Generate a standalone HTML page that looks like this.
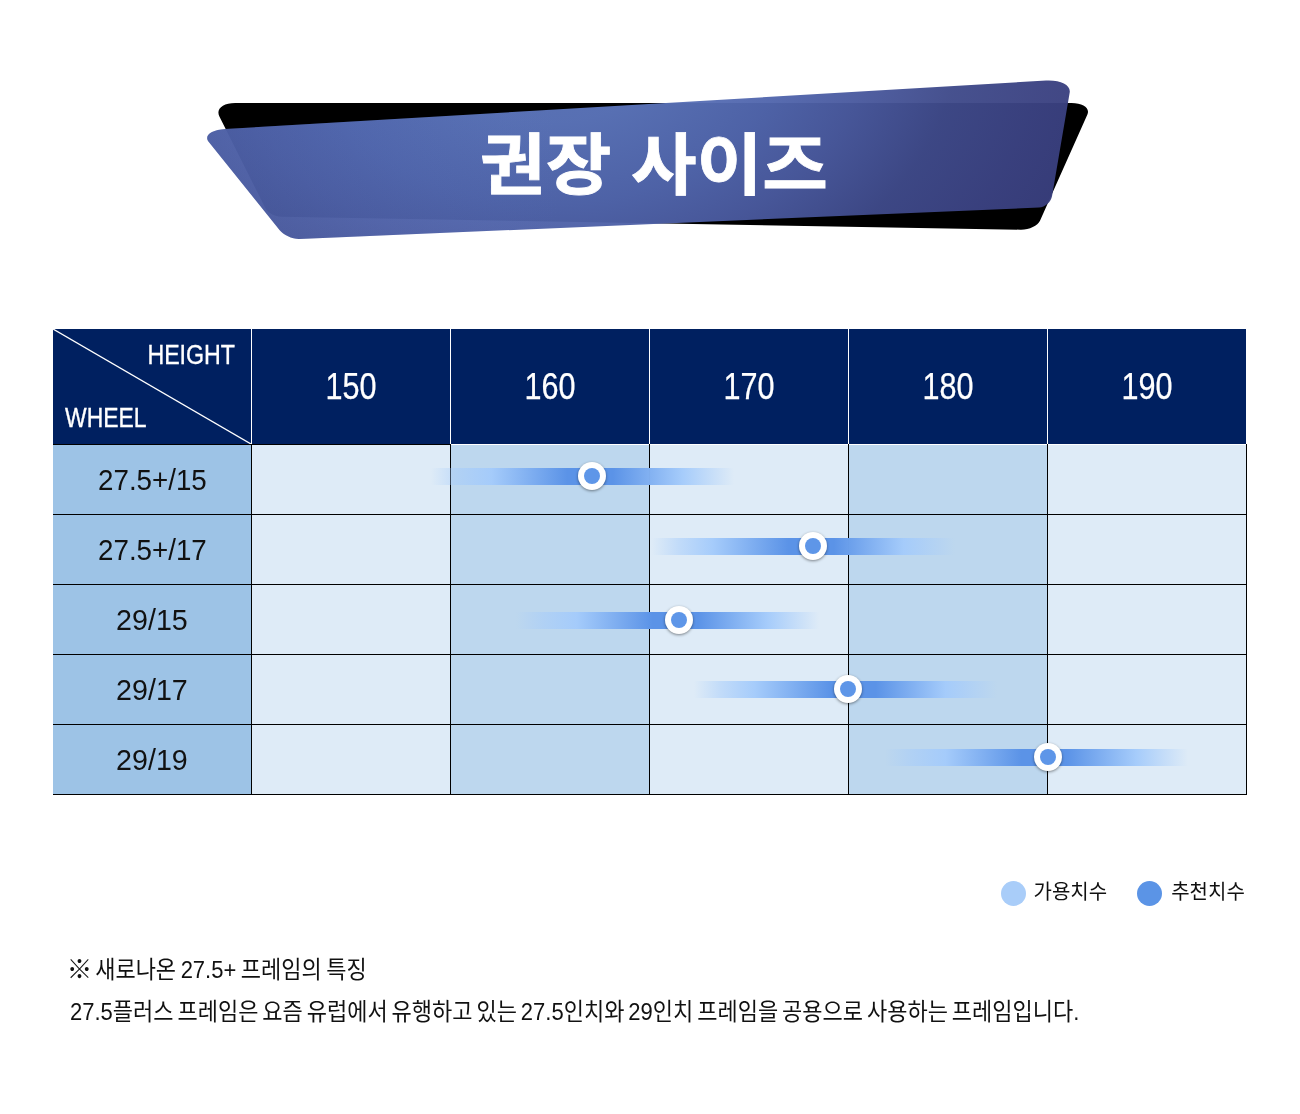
<!DOCTYPE html>
<html lang="ko"><head><meta charset="utf-8"><title>권장 사이즈</title>
<style>
html,body{margin:0;padding:0;background:#fff;}
body{width:1300px;height:1114px;position:relative;overflow:hidden;font-family:"Liberation Sans","Noto Sans CJK KR",sans-serif;color:#111;}
.abs{position:absolute;}
#banner{position:absolute;left:0;top:0;width:1300px;height:280px;}
#title{position:absolute;left:353.5px;top:111px;width:600px;height:110px;line-height:110px;text-align:center;color:#fff;font-family:"Liberation Sans","Noto Sans CJK KR",sans-serif;font-weight:700;font-size:67px;white-space:nowrap;transform:scaleX(1.064);-webkit-text-stroke:.8px #fff;}
.hc{position:absolute;background:#002060;color:#fff;}
.hn{font-size:36px;text-align:center;-webkit-text-stroke:.25px #fff;}
.hn span{display:inline-block;transform:scaleX(.85);}
.rl{position:absolute;background:#9DC3E6;font-size:30.3px;text-align:center;color:#111;}
.rl span{display:inline-block;transform:scaleX(.945);position:relative;top:.4px;}
.rl span.p{transform:scaleX(.915);}
.c{position:absolute;}
.ln{position:absolute;background:#000;}
.bar{position:absolute;height:17px;width:303px;background:linear-gradient(90deg,rgba(164,203,251,0) 0%,rgba(164,203,251,.5) 9%,rgba(164,203,251,.97) 20%,#5b93e7 45%,#5b93e7 60%,rgba(164,203,251,.97) 83%,rgba(164,203,251,.45) 92%,rgba(164,203,251,0) 100%);}
.dot{position:absolute;width:28px;height:28px;border-radius:50%;background:#fff;box-shadow:0 1px 3px rgba(0,0,0,.45);}
.dot i{position:absolute;left:6px;top:6px;width:16px;height:16px;border-radius:50%;background:#5e96e8;}
.lg{position:absolute;font-size:20px;line-height:30px;transform:scaleY(1.04);white-space:nowrap;color:#111;}
.ft{position:absolute;left:70px;font-size:22px;line-height:42px;white-space:nowrap;color:#111;word-spacing:-2.2px;transform:scaleY(1.08);transform-origin:left center;}
</style></head><body>
<svg id="banner" viewBox="0 0 1300 280">
<defs><radialGradient id="g" gradientUnits="userSpaceOnUse" cx="0" cy="0" r="1" gradientTransform="translate(550 40) scale(590 410)">
<stop offset="0" stop-color="#5e78be"/><stop offset=".2" stop-color="#5b74ba"/><stop offset=".4" stop-color="#5166ad"/><stop offset=".533" stop-color="#4a5a9f"/><stop offset=".69" stop-color="#3f4a8a"/><stop offset=".84" stop-color="#3b4282"/><stop offset="1" stop-color="#373c7a"/></radialGradient>
<linearGradient id="g2" gradientUnits="userSpaceOnUse" x1="200" y1="0" x2="560" y2="0"><stop offset="0" stop-color="#6080d0" stop-opacity=".27"/><stop offset="1" stop-color="#6080d0" stop-opacity="0"/></linearGradient></defs>
<path d="M219.4 116.5 C215.7 109.0 222.7 102.9 235.2 102.9 L1071.5 103.0 C1083.1 103.0 1090.2 108.1 1087.4 114.4 L1040.0 220.7 C1037.7 225.8 1029.0 229.9 1020.5 229.7 L281.4 216.7 C274.9 216.6 267.9 213.1 265.7 208.8 Z" fill="#000"/>
<path d="M208.8 142.0 C203.6 135.7 211.0 129.8 225.2 129.0 L1046.1 80.5 C1060.4 79.7 1071.0 85.0 1069.7 92.5 L1052.1 195.8 C1051.1 202.0 1045.2 207.3 1039.0 207.6 L299.5 239.0 C292.6 239.3 283.6 235.3 279.5 230.1 Z" fill="url(#g)" fill-opacity=".96"/>
<path d="M208.8 142.0 C203.6 135.7 211.0 129.8 225.2 129.0 L1046.1 80.5 C1060.4 79.7 1071.0 85.0 1069.7 92.5 L1052.1 195.8 C1051.1 202.0 1045.2 207.3 1039.0 207.6 L299.5 239.0 C292.6 239.3 283.6 235.3 279.5 230.1 Z" fill="url(#g2)"/>
</svg>
<div id="title">권장 사이즈</div>
<div class="hc" style="left:53px;top:329px;width:198px;height:115px;"><svg class="abs" style="left:0;top:0" width="198" height="115"><line x1="0" y1="0" x2="198" y2="115" stroke="#fff" stroke-width="1.3"/></svg><div class="abs" id="hH" style="right:15.6px;top:11px;font-size:27px;line-height:30px;-webkit-text-stroke:.35px #fff;transform:scaleX(.859);transform-origin:right center;">HEIGHT</div><div class="abs" id="hW" style="left:12.2px;top:73.5px;font-size:27px;line-height:30px;-webkit-text-stroke:.35px #fff;transform:scaleX(.849);transform-origin:left center;">WHEEL</div></div>
<div class="hc hn" style="left:252px;top:329px;width:198px;height:115px;line-height:115px;"><span>150</span></div>
<div class="hc hn" style="left:451px;top:329px;width:198px;height:115px;line-height:115px;"><span>160</span></div>
<div class="hc hn" style="left:650px;top:329px;width:198px;height:115px;line-height:115px;"><span>170</span></div>
<div class="hc hn" style="left:849px;top:329px;width:198px;height:115px;line-height:115px;"><span>180</span></div>
<div class="hc hn" style="left:1048px;top:329px;width:198px;height:115px;line-height:115px;"><span>190</span></div>
<div class="rl" style="left:53px;top:445px;width:198px;height:69px;line-height:69px;"><span class="p">27.5+/15</span></div>
<div class="c" style="left:252px;top:445px;width:198px;height:69px;background:#DEEBF7;"></div>
<div class="c" style="left:451px;top:445px;width:198px;height:69px;background:#BDD7EE;"></div>
<div class="c" style="left:650px;top:445px;width:198px;height:69px;background:#DEEBF7;"></div>
<div class="c" style="left:849px;top:445px;width:198px;height:69px;background:#BDD7EE;"></div>
<div class="c" style="left:1048px;top:445px;width:198px;height:69px;background:#DEEBF7;"></div>
<div class="rl" style="left:53px;top:515px;width:198px;height:69px;line-height:69px;"><span class="p">27.5+/17</span></div>
<div class="c" style="left:252px;top:515px;width:198px;height:69px;background:#DEEBF7;"></div>
<div class="c" style="left:451px;top:515px;width:198px;height:69px;background:#BDD7EE;"></div>
<div class="c" style="left:650px;top:515px;width:198px;height:69px;background:#DEEBF7;"></div>
<div class="c" style="left:849px;top:515px;width:198px;height:69px;background:#BDD7EE;"></div>
<div class="c" style="left:1048px;top:515px;width:198px;height:69px;background:#DEEBF7;"></div>
<div class="rl" style="left:53px;top:585px;width:198px;height:69px;line-height:69px;"><span>29/15</span></div>
<div class="c" style="left:252px;top:585px;width:198px;height:69px;background:#DEEBF7;"></div>
<div class="c" style="left:451px;top:585px;width:198px;height:69px;background:#BDD7EE;"></div>
<div class="c" style="left:650px;top:585px;width:198px;height:69px;background:#DEEBF7;"></div>
<div class="c" style="left:849px;top:585px;width:198px;height:69px;background:#BDD7EE;"></div>
<div class="c" style="left:1048px;top:585px;width:198px;height:69px;background:#DEEBF7;"></div>
<div class="rl" style="left:53px;top:655px;width:198px;height:69px;line-height:69px;"><span>29/17</span></div>
<div class="c" style="left:252px;top:655px;width:198px;height:69px;background:#DEEBF7;"></div>
<div class="c" style="left:451px;top:655px;width:198px;height:69px;background:#BDD7EE;"></div>
<div class="c" style="left:650px;top:655px;width:198px;height:69px;background:#DEEBF7;"></div>
<div class="c" style="left:849px;top:655px;width:198px;height:69px;background:#BDD7EE;"></div>
<div class="c" style="left:1048px;top:655px;width:198px;height:69px;background:#DEEBF7;"></div>
<div class="rl" style="left:53px;top:725px;width:198px;height:69px;line-height:69px;"><span>29/19</span></div>
<div class="c" style="left:252px;top:725px;width:198px;height:69px;background:#DEEBF7;"></div>
<div class="c" style="left:451px;top:725px;width:198px;height:69px;background:#BDD7EE;"></div>
<div class="c" style="left:650px;top:725px;width:198px;height:69px;background:#DEEBF7;"></div>
<div class="c" style="left:849px;top:725px;width:198px;height:69px;background:#BDD7EE;"></div>
<div class="c" style="left:1048px;top:725px;width:198px;height:69px;background:#DEEBF7;"></div>
<div class="ln" style="left:251px;top:444px;width:1px;height:351px;"></div>
<div class="ln" style="left:450px;top:444px;width:1px;height:351px;"></div>
<div class="ln" style="left:649px;top:444px;width:1px;height:351px;"></div>
<div class="ln" style="left:848px;top:444px;width:1px;height:351px;"></div>
<div class="ln" style="left:1047px;top:444px;width:1px;height:351px;"></div>
<div class="ln" style="left:1246px;top:444px;width:1px;height:351px;"></div>
<div class="ln" style="left:251px;top:329px;width:1px;height:115px;background:#fff;"></div>
<div class="ln" style="left:450px;top:329px;width:1px;height:115px;background:#fff;"></div>
<div class="ln" style="left:649px;top:329px;width:1px;height:115px;background:#fff;"></div>
<div class="ln" style="left:848px;top:329px;width:1px;height:115px;background:#fff;"></div>
<div class="ln" style="left:1047px;top:329px;width:1px;height:115px;background:#fff;"></div>
<div class="ln" style="left:53px;top:444px;width:398px;height:1px;"></div>
<div class="ln" style="left:53px;top:514px;width:1194px;height:1px;"></div>
<div class="ln" style="left:53px;top:584px;width:1194px;height:1px;"></div>
<div class="ln" style="left:53px;top:654px;width:1194px;height:1px;"></div>
<div class="ln" style="left:53px;top:724px;width:1194px;height:1px;"></div>
<div class="ln" style="left:53px;top:794px;width:1194px;height:1px;"></div>
<div class="bar" style="left:430.5px;top:468px;"></div><div class="dot" style="left:578px;top:462.0px;"><i></i></div>
<div class="bar" style="left:652px;top:538px;"></div><div class="dot" style="left:799px;top:532.0px;"><i></i></div>
<div class="bar" style="left:516px;top:612px;"></div><div class="dot" style="left:665px;top:606.0px;"><i></i></div>
<div class="bar" style="left:694px;top:681px;"></div><div class="dot" style="left:833.6px;top:675.0px;"><i></i></div>
<div class="bar" style="left:884.5px;top:749px;"></div><div class="dot" style="left:1033.8px;top:743.0px;"><i></i></div>
<div class="abs" style="left:1001.3px;top:881.3px;width:25px;height:25px;border-radius:50%;background:#a9cdf9;"></div>
<div class="lg" id="lg1" style="left:1033.5px;top:876.5px;">가용치수</div>
<div class="abs" style="left:1136.8px;top:881.3px;width:25px;height:25px;border-radius:50%;background:#5b94e6;"></div>
<div class="lg" id="lg2" style="left:1171.2px;top:876.5px;">추천치수</div>
<div class="ft" id="ft1" style="top:949.3px;word-spacing:-1.6px;"><span style="font-size:25.5px;line-height:20px;margin-left:-3.2px;margin-right:-1.7px;position:relative;top:.8px;">※</span> 새로나온 27.5+ 프레임의 특징</div>
<div class="ft" id="ft2" style="top:991px;">27.5플러스 프레임은 요즘 유럽에서 유행하고 있는 27.5인치와 29인치 프레임을 공용으로 사용하는 프레임입니다.</div>
</body></html>
